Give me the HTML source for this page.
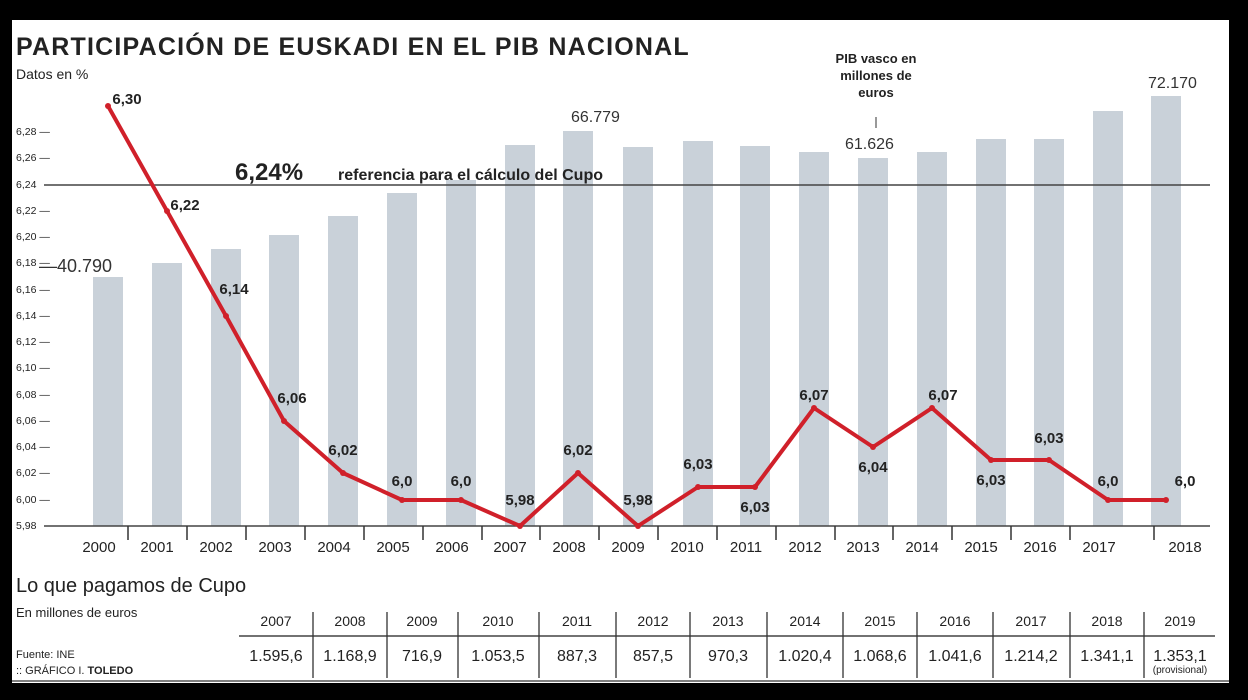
<!DOCTYPE html>
<html><head><meta charset="utf-8"><style>
body{margin:0;background:#000;}
svg{display:block;font-family:"Liberation Sans",sans-serif;}
</style></head><body>
<svg width="1248" height="700" viewBox="0 0 1248 700">
<rect x="0" y="0" width="1248" height="700" fill="#000"/>
<rect x="12" y="20" width="1217" height="663" fill="#fff"/>
<text x="16" y="55" font-size="25" font-weight="bold" fill="#222" letter-spacing="1.2">PARTICIPACIÓN DE EUSKADI EN EL PIB NACIONAL</text>
<text x="16" y="79" font-size="14" fill="#222">Datos en %</text>
<g fill="#c9d1d9">
<rect x="93" y="277" width="30" height="249"/>
<rect x="152" y="263" width="30" height="263"/>
<rect x="211" y="249" width="30" height="277"/>
<rect x="269" y="235" width="30" height="291"/>
<rect x="328" y="216" width="30" height="310"/>
<rect x="387" y="193" width="30" height="333"/>
<rect x="446" y="180" width="30" height="346"/>
<rect x="505" y="145" width="30" height="381"/>
<rect x="563" y="131" width="30" height="395"/>
<rect x="623" y="147" width="30" height="379"/>
<rect x="683" y="141" width="30" height="385"/>
<rect x="740" y="146" width="30" height="380"/>
<rect x="799" y="152" width="30" height="374"/>
<rect x="858" y="158" width="30" height="368"/>
<rect x="917" y="152" width="30" height="374"/>
<rect x="976" y="139" width="30" height="387"/>
<rect x="1034" y="139" width="30" height="387"/>
<rect x="1093" y="111" width="30" height="415"/>
<rect x="1151" y="96" width="30" height="430"/>
</g>
<g font-size="10.5" fill="#222">
<text x="16" y="135">6,28 —</text><text x="16" y="161">6,26 —</text><text x="16" y="188">6,24</text>
<text x="16" y="214">6,22 —</text><text x="16" y="240">6,20 —</text><text x="16" y="266">6,18 —</text>
<text x="16" y="293">6,16 —</text><text x="16" y="319">6,14 —</text><text x="16" y="345">6,12 —</text>
<text x="16" y="371">6,10 —</text><text x="16" y="398">6,08 —</text><text x="16" y="424">6,06 —</text>
<text x="16" y="450">6,04 —</text><text x="16" y="476">6,02 —</text><text x="16" y="503">6,00 —</text>
<text x="16" y="529">5,98</text>
</g>
<line x1="44" y1="185" x2="1210" y2="185" stroke="#444" stroke-width="1.5"/>
<line x1="44" y1="526" x2="1210" y2="526" stroke="#444" stroke-width="1.5"/>
<text x="235" y="180" font-size="24" font-weight="bold" fill="#222">6,24%</text>
<text x="338" y="180" font-size="16" font-weight="bold" fill="#222">referencia para el cálculo del Cupo</text>
<text x="39" y="272" font-size="18" fill="#333">—40.790</text>
<text x="571" y="122" font-size="16" fill="#333">66.779</text>
<text x="845" y="149" font-size="16" fill="#333">61.626</text>
<text x="1148" y="88" font-size="16" fill="#333">72.170</text>
<g font-size="13" font-weight="bold" fill="#222" text-anchor="middle">
<text x="876" y="63">PIB vasco en</text><text x="876" y="80">millones de</text><text x="876" y="97">euros</text>
</g>
<line x1="876" y1="117" x2="876" y2="128" stroke="#333"/>
<polyline fill="none" stroke="#d0202a" stroke-width="4" stroke-linejoin="round" points="108,106 167,211 226,316 284,421 343,473 402,500 461,500 520,526 578,473 638,526 698,487 755,487 814,408 873,447 932,408 991,460 1049,460 1108,500 1166,500"/>
<g fill="#d0202a">
<circle cx="108" cy="106" r="3"/><circle cx="167" cy="211" r="3"/><circle cx="226" cy="316" r="3"/><circle cx="284" cy="421" r="3"/><circle cx="343" cy="473" r="3"/><circle cx="402" cy="500" r="3"/><circle cx="461" cy="500" r="3"/><circle cx="520" cy="526" r="3"/><circle cx="578" cy="473" r="3"/><circle cx="638" cy="526" r="3"/><circle cx="698" cy="487" r="3"/><circle cx="755" cy="487" r="3"/><circle cx="814" cy="408" r="3"/><circle cx="873" cy="447" r="3"/><circle cx="932" cy="408" r="3"/><circle cx="991" cy="460" r="3"/><circle cx="1049" cy="460" r="3"/><circle cx="1108" cy="500" r="3"/><circle cx="1166" cy="500" r="3"/>
</g>
<g font-size="15" font-weight="bold" fill="#222" text-anchor="middle">
<text x="127" y="104">6,30</text><text x="185" y="210">6,22</text><text x="234" y="294">6,14</text>
<text x="292" y="403">6,06</text><text x="343" y="455">6,02</text><text x="402" y="486">6,0</text>
<text x="461" y="486">6,0</text><text x="520" y="505">5,98</text><text x="578" y="455">6,02</text>
<text x="638" y="505">5,98</text><text x="698" y="469">6,03</text><text x="755" y="512">6,03</text>
<text x="814" y="400">6,07</text><text x="873" y="472">6,04</text><text x="943" y="400">6,07</text>
<text x="991" y="485">6,03</text><text x="1049" y="443">6,03</text><text x="1108" y="486">6,0</text>
<text x="1185" y="486">6,0</text>
</g>
<g font-size="15" fill="#222" text-anchor="middle">
<text x="99" y="552">2000</text><text x="157" y="552">2001</text><text x="216" y="552">2002</text><text x="275" y="552">2003</text><text x="334" y="552">2004</text><text x="393" y="552">2005</text><text x="452" y="552">2006</text><text x="510" y="552">2007</text><text x="569" y="552">2008</text><text x="628" y="552">2009</text><text x="687" y="552">2010</text><text x="746" y="552">2011</text><text x="805" y="552">2012</text><text x="863" y="552">2013</text><text x="922" y="552">2014</text><text x="981" y="552">2015</text><text x="1040" y="552">2016</text><text x="1099" y="552">2017</text><text x="1185" y="552">2018</text>
</g>
<g stroke="#333" stroke-width="1.5">
<line x1="128" y1="526" x2="128" y2="540"/><line x1="187" y1="526" x2="187" y2="540"/><line x1="246" y1="526" x2="246" y2="540"/><line x1="305" y1="526" x2="305" y2="540"/><line x1="364" y1="526" x2="364" y2="540"/><line x1="423" y1="526" x2="423" y2="540"/><line x1="482" y1="526" x2="482" y2="540"/><line x1="540" y1="526" x2="540" y2="540"/><line x1="599" y1="526" x2="599" y2="540"/><line x1="658" y1="526" x2="658" y2="540"/><line x1="717" y1="526" x2="717" y2="540"/><line x1="776" y1="526" x2="776" y2="540"/><line x1="835" y1="526" x2="835" y2="540"/><line x1="893" y1="526" x2="893" y2="540"/><line x1="952" y1="526" x2="952" y2="540"/><line x1="1011" y1="526" x2="1011" y2="540"/><line x1="1070" y1="526" x2="1070" y2="540"/><line x1="1154" y1="526" x2="1154" y2="540"/>
</g>
<text x="16" y="592" font-size="20" fill="#222">Lo que pagamos de Cupo</text>
<text x="16" y="617" font-size="13" fill="#222">En millones de euros</text>
<text x="16" y="658" font-size="11" fill="#222">Fuente: INE</text>
<text x="16" y="674" font-size="11" fill="#222">:: GRÁFICO I. <tspan font-weight="bold">TOLEDO</tspan></text>
<line x1="239" y1="636" x2="1215" y2="636" stroke="#444" stroke-width="1.5"/>
<g stroke="#333" stroke-width="1.3">
<line x1="313" y1="612" x2="313" y2="678"/><line x1="387" y1="612" x2="387" y2="678"/><line x1="458" y1="612" x2="458" y2="678"/><line x1="539" y1="612" x2="539" y2="678"/><line x1="616" y1="612" x2="616" y2="678"/><line x1="690" y1="612" x2="690" y2="678"/><line x1="767" y1="612" x2="767" y2="678"/><line x1="843" y1="612" x2="843" y2="678"/><line x1="917" y1="612" x2="917" y2="678"/><line x1="993" y1="612" x2="993" y2="678"/><line x1="1070" y1="612" x2="1070" y2="678"/><line x1="1144" y1="612" x2="1144" y2="678"/>
</g>
<g font-size="14" fill="#222" text-anchor="middle">
<text x="276" y="626">2007</text><text x="350" y="626">2008</text><text x="422" y="626">2009</text><text x="498" y="626">2010</text><text x="577" y="626">2011</text><text x="653" y="626">2012</text><text x="728" y="626">2013</text><text x="805" y="626">2014</text><text x="880" y="626">2015</text><text x="955" y="626">2016</text><text x="1031" y="626">2017</text><text x="1107" y="626">2018</text><text x="1180" y="626">2019</text>
</g>
<g font-size="16" fill="#222" text-anchor="middle">
<text x="276" y="661">1.595,6</text><text x="350" y="661">1.168,9</text><text x="422" y="661">716,9</text><text x="498" y="661">1.053,5</text><text x="577" y="661">887,3</text><text x="653" y="661">857,5</text><text x="728" y="661">970,3</text><text x="805" y="661">1.020,4</text><text x="880" y="661">1.068,6</text><text x="955" y="661">1.041,6</text><text x="1031" y="661">1.214,2</text><text x="1107" y="661">1.341,1</text><text x="1180" y="661">1.353,1</text>
</g>
<text x="1180" y="673" font-size="10" fill="#222" text-anchor="middle">(provisional)</text>
<line x1="12" y1="681" x2="1229" y2="681" stroke="#555" stroke-width="1.5"/>
</svg>
</body></html>
